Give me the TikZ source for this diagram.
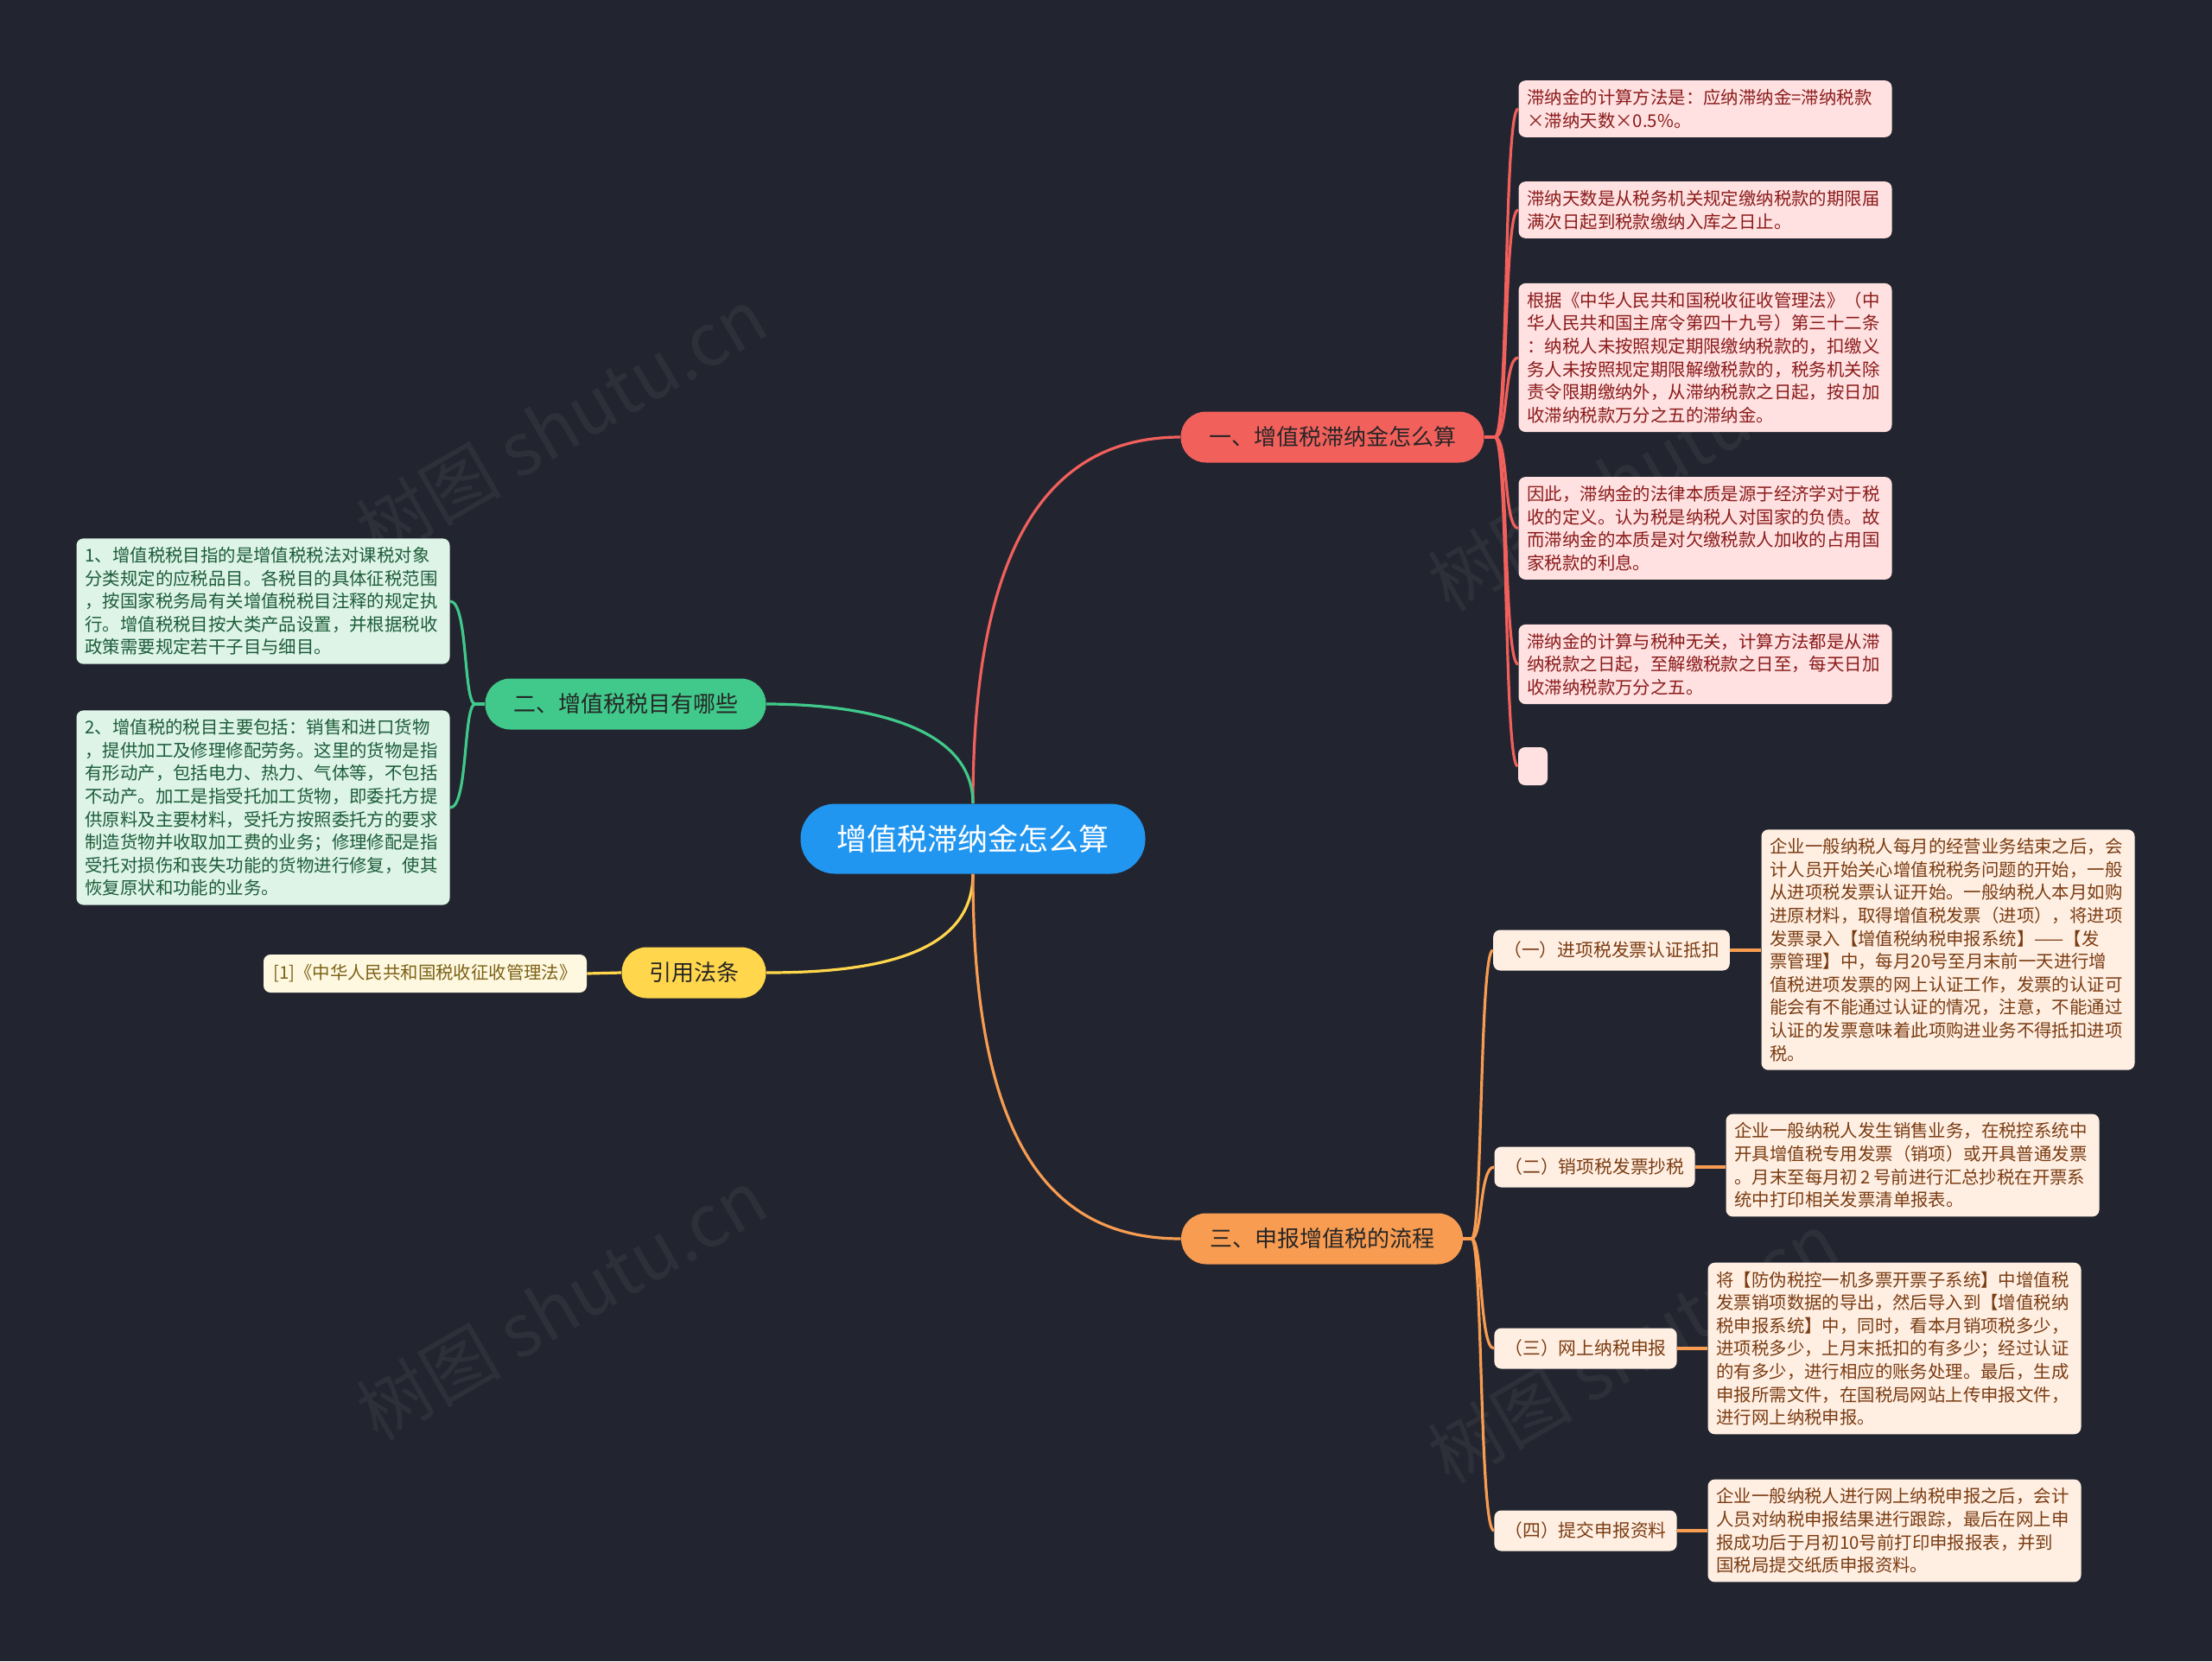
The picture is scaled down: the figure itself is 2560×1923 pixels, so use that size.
\documentclass[tikz,border=0pt]{standalone}
\usepackage{fontspec}
\setmainfont{Noto Sans CJK SC}
\definecolor{bg}{HTML}{22252F}
\definecolor{cblue}{HTML}{2196F0}
\definecolor{cred}{HTML}{F2605C}
\definecolor{cgreen}{HTML}{40C98A}
\definecolor{cyellow}{HTML}{FFD64C}
\definecolor{corange}{HTML}{F89C52}
\definecolor{fpink}{HTML}{FFE1E1}
\definecolor{tred}{HTML}{8B1B1B}
\definecolor{fgreen}{HTML}{DDF4E6}
\definecolor{tgreen}{HTML}{1D5C3A}
\definecolor{fyellow}{HTML}{FFF8E1}
\definecolor{tyellow}{HTML}{7B6215}
\definecolor{forange}{HTML}{FFEFE3}
\definecolor{torange}{HTML}{7A3C12}
\tikzset{
  leaf/.style={rounded corners=4pt, inner xsep=5pt, inner ysep=5pt, text width=206pt, align=left,
    font=\fontsize{10.2}{13.3}\selectfont},
  redleaf/.style={leaf, fill=fpink, text=tred},
  greenleaf/.style={leaf, fill=fgreen, text=tgreen},
  orangeleaf/.style={leaf, fill=forange, text=torange},
  branch/.style={rounded corners=14.5pt, minimum height=29.5pt, inner xsep=8pt, text=black!85,
    font=\fontsize{13}{15}\selectfont},
  subbr/.style={rounded corners=4pt, minimum height=23.5pt, inner xsep=6pt, fill=forange, text=torange,
    font=\fontsize{10.4}{12}\selectfont},
  conn/.style={line width=1.6pt},
  wm/.style={text=white, opacity=0.05, rotate=30, font=\fontsize{42}{46}\selectfont}
}
\begin{document}
\begin{tikzpicture}[x=0.5pt,y=-0.5pt]
\useasboundingbox (0,0) rectangle (2560,1923);
\fill[bg] (0,0) rectangle (2560,1923);

% watermarks
\node[wm] (wm1) at (650,490) {树图 shutu.cn};
\node[wm] (wm2) at (1890,550) {树图 shutu.cn};
\node[wm] (wm3) at (650,1510) {树图 shutu.cn};
\node[wm] (wm4) at (1890,1560) {树图 shutu.cn};

% central
\node[fill=cblue, text=white, rounded corners=20pt, minimum width=199.5pt, minimum height=40.5pt,
  font=\fontsize{17.5}{20}\selectfont] (c) at (1126,971) {增值税滞纳金怎么算};

% branches
\node[branch, fill=cred, minimum width=175.5pt] (b1) at (1542,506) {一、增值税滞纳金怎么算};
\node[branch, fill=cgreen, minimum width=162.5pt] (b2) at (724,815) {二、增值税税目有哪些};
\node[branch, fill=cyellow, minimum width=83.5pt] (b3) at (803,1126) {引用法条};
\node[branch, fill=corange, minimum width=163pt] (b4) at (1530,1434) {三、申报增值税的流程};

% red leaves
\node[redleaf] (r1) at (1973.5,126) {滞纳金的计算方法是：应纳滞纳金=滞纳税款\\×滞纳天数×0.5\%。};
\node[redleaf] (r2) at (1973.5,243) {滞纳天数是从税务机关规定缴纳税款的期限届\\满次日起到税款缴纳入库之日止。};
\node[redleaf] (r3) at (1973.5,414) {根据《中华人民共和国税收征收管理法》（中\\华人民共和国主席令第四十九号）第三十二条\\：纳税人未按照规定期限缴纳税款的，扣缴义\\务人未按照规定期限解缴税款的，税务机关除\\责令限期缴纳外，从滞纳税款之日起，按日加\\收滞纳税款万分之五的滞纳金。};
\node[redleaf] (r4) at (1973.5,611.5) {因此，滞纳金的法律本质是源于经济学对于税\\收的定义。认为税是纳税人对国家的负债。故\\而滞纳金的本质是对欠缴税款人加收的占用国\\家税款的利息。};
\node[redleaf] (r5) at (1973.5,769) {滞纳金的计算与税种无关，计算方法都是从滞\\纳税款之日起，至解缴税款之日至，每天日加\\收滞纳税款万分之五。};
\node[fill=fpink, rounded corners=4pt, minimum width=17pt, minimum height=22pt, inner sep=0pt] (r6) at (1774,887) {};

% green leaves
\node[greenleaf] (g1) at (304.5,696) {1、增值税税目指的是增值税税法对课税对象\\分类规定的应税品目。各税目的具体征税范围\\，按国家税务局有关增值税税目注释的规定执\\行。增值税税目按大类产品设置，并根据税收\\政策需要规定若干子目与细目。};
\node[greenleaf] (g2) at (304.5,935) {2、增值税的税目主要包括：销售和进口货物\\，提供加工及修理修配劳务。这里的货物是指\\有形动产，包括电力、热力、气体等，不包括\\不动产。加工是指受托加工货物，即委托方提\\供原料及主要材料，受托方按照委托方的要求\\制造货物并收取加工费的业务；修理修配是指\\受托对损伤和丧失功能的货物进行修复，使其\\恢复原状和功能的业务。};

% yellow leaf
\node[fill=fyellow, text=tyellow, rounded corners=4pt, minimum width=187pt, minimum height=22pt,
  font=\fontsize{10.2}{12}\selectfont] (y1) at (492,1127) {[1]《中华人民共和国税收征收管理法》};

% orange sub-branches
\node[subbr, minimum width=133pt] (s1) at (1865,1100) {（一）进项税发票认证抵扣};
\node[subbr, minimum width=113.5pt] (s2) at (1845.5,1351) {（二）销项税发票抄税};
\node[subbr, minimum width=103pt] (s3) at (1835,1561) {（三）网上纳税申报};
\node[subbr, minimum width=103pt] (s4) at (1835,1772) {（四）提交申报资料};

% orange leaves
\node[orangeleaf] (o1) at (2254.5,1099.5) {企业一般纳税人每月的经营业务结束之后，会\\计人员开始关心增值税税务问题的开始，一般\\从进项税发票认证开始。一般纳税人本月如购\\进原材料，取得增值税发票（进项），将进项\\发票录入【增值税纳税申报系统】——【发\\票管理】中，每月20号至月末前一天进行增\\值税进项发票的网上认证工作，发票的认证可\\能会有不能通过认证的情况，注意，不能通过\\认证的发票意味着此项购进业务不得抵扣进项\\税。};
\node[orangeleaf] (o2) at (2213.5,1349) {企业一般纳税人发生销售业务，在税控系统中\\开具增值税专用发票（销项）或开具普通发票\\\mbox{。月末至每月初\,2\,号前进行汇总抄税在开票系}\\统中打印相关发票清单报表。};
\node[orangeleaf] (o3) at (2192.5,1561) {将【防伪税控一机多票开票子系统】中增值税\\发票销项数据的导出，然后导入到【增值税纳\\税申报系统】中，同时，看本月销项税多少，\\进项税多少，上月末抵扣的有多少；经过认证\\的有多少，进行相应的账务处理。最后，生成\\申报所需文件，在国税局网站上传申报文件，\\进行网上纳税申报。};
\node[orangeleaf] (o4) at (2192.5,1772) {企业一般纳税人进行网上纳税申报之后，会计\\人员对纳税申报结果进行跟踪，最后在网上申\\报成功后于月初10号前打印申报报表，并到\\国税局提交纸质申报资料。};

% center to branches
\draw[conn, cred] (c.north) .. controls (1126,620) and (1220,506) .. (b1.west);
\draw[conn, cgreen] (c.north) .. controls (1126,840) and (1000,815) .. (b2.east);
\draw[conn, cyellow] (c.south) .. controls (1126,1110) and (1000,1126) .. (b3.east);
\draw[conn, corange] (c.south) .. controls (1126,1330) and (1220,1434) .. (b4.west);

% red branch to leaves
\coordinate (rj) at (1730,506);
\draw[conn, cred] (b1.east) -- (rj);
\foreach \n in {r1,r2,r3,r4,r5,r6}{
  \draw[conn, cred] (rj) .. controls (1746,506) and (1740,0|-\n.west) .. (\n.west);
}

% green branch to leaves
\coordinate (gj) at (550,815);
\draw[conn, cgreen] (b2.west) -- (gj);
\foreach \n in {g1,g2}{
  \draw[conn, cgreen] (gj) .. controls (536,815) and (542,0|-\n.east) .. (\n.east);
}

% yellow
\draw[conn, cyellow] (b3.west) -- (y1.east);

% orange branch to sub-branches
\coordinate (oj) at (1703,1434);
\draw[conn, corange] (b4.east) -- (oj);
\foreach \n in {s1,s2,s3,s4}{
  \draw[conn, corange] (oj) .. controls (1716,1434) and (1712,0|-\n.west) .. (\n.west);
}
\draw[conn, corange] (s1.east) -- (o1.west|-s1.east);
\draw[conn, corange] (s2.east) -- (o2.west|-s2.east);
\draw[conn, corange] (s3.east) -- (o3.west|-s3.east);
\draw[conn, corange] (s4.east) -- (o4.west|-s4.east);
\end{tikzpicture}
\end{document}
